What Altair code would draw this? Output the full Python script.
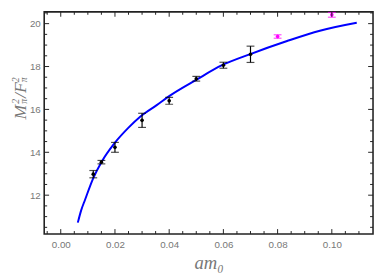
import altair as alt
import pandas as pd

# measured data (black) with symmetric errors
x_data = [0.012, 0.015, 0.02, 0.03, 0.04, 0.05, 0.06, 0.07]
y_data = [12.98, 13.54, 14.23, 15.49, 16.40, 17.43, 18.06, 18.57]
err_data = [0.17, 0.08, 0.23, 0.33, 0.16, 0.11, 0.14, 0.38]

# excluded points (magenta)
x_extra = [0.08, 0.10]
y_extra = [19.40, 20.41]
err_extra = [0.08, 0.11]

# fit curve
fit_x = [0.0063, 0.0075, 0.009, 0.012, 0.015, 0.020, 0.025, 0.0294, 0.0354,
         0.040, 0.050, 0.0595, 0.0697, 0.0835, 0.0956, 0.1092]
fit_y = [10.72, 11.28, 11.80, 12.80, 13.54, 14.45, 15.15, 15.67, 16.20,
         16.62, 17.38, 18.06, 18.57, 19.19, 19.67, 20.04]

# tick values
x_major = [0.0, 0.02, 0.04, 0.06, 0.08, 0.10]
x_minor = [-0.005, 0.005, 0.01, 0.015, 0.025, 0.03, 0.035, 0.045, 0.05, 0.055,
           0.065, 0.07, 0.075, 0.085, 0.09, 0.095, 0.105, 0.11]
y_major = [12, 14, 16, 18, 20]
y_minor = [10.5, 11, 11.5, 12.5, 13, 13.5, 14.5, 15, 15.5, 16.5, 17, 17.5,
           18.5, 19, 19.5, 20.5]

W, H = 336, 227
GRAY = "#777777"
FRAME = "#222222"

xs = alt.Scale(domain=[-0.0061, 0.1152], nice=False, zero=False)
ys = alt.Scale(domain=[10.19, 20.55], nice=False, zero=False)

df = pd.DataFrame({"x": x_data, "y": y_data,
                   "lo": [v - e for v, e in zip(y_data, err_data)],
                   "hi": [v + e for v, e in zip(y_data, err_data)]})
dfe = pd.DataFrame({"x": x_extra, "y": y_extra,
                    "lo": [v - e for v, e in zip(y_extra, err_extra)],
                    "hi": [v + e for v, e in zip(y_extra, err_extra)]})
dfit = pd.DataFrame({"x": fit_x, "y": fit_y})

xaxis = alt.Axis(values=x_major, format=".2f", grid=False, ticks=False, tickSize=0,
                 domain=False, labelColor=GRAY, labelFontSize=10, labelFont="Liberation Sans",
                 labelPadding=6, title="am₀", titleFont="Liberation Serif",
                 titleFontStyle="italic", titleFontWeight="normal", titleFontSize=19,
                 titleColor=GRAY, titlePadding=4)
yaxis = alt.Axis(values=y_major, format="d", grid=False, ticks=False, tickSize=0,
                 domain=False, labelColor=GRAY, labelFontSize=10, labelFont="Liberation Sans",
                 labelPadding=4, title="")


def X(f):
    return alt.X(f, scale=xs, axis=xaxis)


def Y(f):
    return alt.Y(f, scale=ys, axis=yaxis)


fit = alt.Chart(dfit).mark_line(color="#0000ff", strokeWidth=2, interpolate="monotone").encode(
    x=X("x:Q"), y=Y("y:Q"))


def err_layers(d, color):
    bars = alt.Chart(d).mark_rule(color=color, strokeWidth=1.2).encode(
        x=X("x:Q"), y=Y("lo:Q"), y2="hi:Q")
    cap_hi = alt.Chart(d).mark_tick(color=color, orient="horizontal", size=8, thickness=1.2).encode(
        x=X("x:Q"), y=Y("hi:Q"))
    cap_lo = alt.Chart(d).mark_tick(color=color, orient="horizontal", size=8, thickness=1.2).encode(
        x=X("x:Q"), y=Y("lo:Q"))
    pts = alt.Chart(d).mark_circle(color=color, size=14, opacity=1).encode(
        x=X("x:Q"), y=Y("y:Q"))
    return [bars, cap_hi, cap_lo, pts]


def xticks(vals, length):
    d = pd.DataFrame({"x": vals})
    bot = alt.Chart(d).mark_rule(color=FRAME, strokeWidth=1).encode(
        x=X("x:Q"), y=alt.value(H), y2=alt.value(H - length))
    top = alt.Chart(d).mark_rule(color=FRAME, strokeWidth=1).encode(
        x=X("x:Q"), y=alt.value(0), y2=alt.value(length))
    return [bot, top]


def yticks(vals, length):
    d = pd.DataFrame({"y": vals})
    left = alt.Chart(d).mark_rule(color=FRAME, strokeWidth=1).encode(
        y=Y("y:Q"), x=alt.value(0), x2=alt.value(length))
    right = alt.Chart(d).mark_rule(color=FRAME, strokeWidth=1).encode(
        y=Y("y:Q"), x=alt.value(W), x2=alt.value(W - length))
    return [left, right]


# y-axis title pieces: M_pi^2 / F_pi^2 (rotated)
def ttext(txt, px, py, size):
    return alt.Chart(pd.DataFrame({"t": [txt]})).mark_text(
        angle=270, align="left", baseline="alphabetic", font="Liberation Serif",
        fontStyle="italic", fontSize=size, color=GRAY).encode(
        text="t:N", x=alt.value(px), y=alt.value(py))

title_parts = [
    ttext("M", -19, 110, 18),
    ttext("2", -26, 94, 10),
    ttext("π", -18, 94, 10),
    ttext("/", -19, 88, 18),
    ttext("F", -19, 83, 18),
    ttext("2", -26, 72, 10),
    ttext("π", -18, 72, 10),
]

layers = ([fit] + err_layers(df, "black") + err_layers(dfe, "#ff00ff")
          + xticks(x_major, 5) + xticks(x_minor, 3)
          + yticks(y_major, 5) + yticks(y_minor, 3) + title_parts)

chart = alt.layer(*layers).properties(
    width=W, height=H,
    autosize=alt.AutoSizeParams(type="none"),
    padding={"left": 37, "top": 1, "right": 1, "bottom": 40},
).configure_view(stroke=FRAME, strokeWidth=1.6)

chart.save("out.html", embed_options={"renderer": "svg", "actions": False})
